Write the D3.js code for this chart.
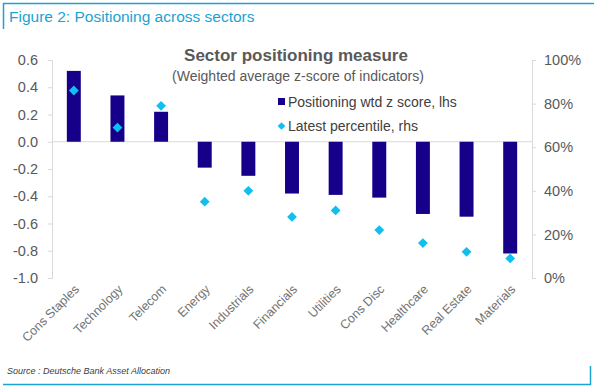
<!DOCTYPE html>
<html>
<head>
<meta charset="utf-8">
<title>Figure 2: Positioning across sectors</title>
<script src="https://cdnjs.cloudflare.com/ajax/libs/d3/7.8.5/d3.min.js"></script>
<style>
	body { margin: 0; background: #fff; }
	svg { font-family: "Liberation Sans", Arial, sans-serif; display: block; }
</style>
</head>
<body>
<svg id="chart" width="594" height="388"></svg>
<script>

	var sectors = ["Cons Staples", "Technology", "Telecom", "Energy", "Industrials", "Financials",
		"Utilities", "Cons Disc", "Healthcare", "Real Estate", "Materials"];
	var zScore = [0.52, 0.34, 0.22, -0.19, -0.25, -0.38, -0.39, -0.41, -0.53, -0.55, -0.82];
	var percentile = [86, 69, 79, 35, 40, 28, 31, 22, 16, 12, 9];
	var leftTicks = [0.6, 0.4, 0.2, 0.0, -0.2, -0.4, -0.6, -0.8, -1.0];
	var rightTicks = [0, 20, 40, 60, 80, 100];

	var blue = "#1ba3d2";
	var barColor = "#170089";
	var dotColor = "#0fbff0";

	function draw() {
		var svg = d3.select("#chart");

		// frame
		svg.append("line").attr("x1", 3).attr("x2", 594).attr("y1", 3.5).attr("y2", 3.5)
			.attr("stroke", blue).attr("stroke-width", 1.5);
		svg.append("line").attr("x1", 3.5).attr("x2", 3.5).attr("y1", 3).attr("y2", 29)
			.attr("stroke", blue).attr("stroke-width", 1.5);
		svg.append("line").attr("x1", 3).attr("x2", 591).attr("y1", 384.5).attr("y2", 384.5)
			.attr("stroke", blue).attr("stroke-width", 1.5);
		svg.append("line").attr("x1", 590.5).attr("x2", 590.5).attr("y1", 366).attr("y2", 385)
			.attr("stroke", blue).attr("stroke-width", 1.5);

		svg.append("text").attr("x", 9).attr("y", 22)
			.attr("fill", blue).attr("font-size", 15.5)
			.text("Figure 2: Positioning across sectors");

		svg.append("text").attr("x", 7).attr("y", 374)
			.attr("fill", "#404040").attr("font-size", 9).attr("font-style", "italic")
			.text("Source : Deutsche Bank Asset Allocation");

		// plot area
		var pLeft = 52, pRight = 532, pTop = 60, pBottom = 278;

		var x = d3.scaleBand().domain(sectors).range([pLeft, pRight]).paddingInner(0.68).paddingOuter(0.34);
		var y = d3.scaleLinear().domain([-1, 0.6]).range([pBottom, pTop]);
		var y2 = d3.scaleLinear().domain([0, 100]).range([pBottom, pTop]);

		var leftAxis = svg.append("g").attr("transform", "translate(" + pLeft + ",0)")
			.call(d3.axisLeft(y).tickValues(leftTicks).tickFormat(function(d) { return d.toFixed(1); })
				.tickSize(4).tickPadding(10));
		var rightAxis = svg.append("g").attr("transform", "translate(" + pRight + ",0)")
			.call(d3.axisRight(y2).tickValues(rightTicks).tickFormat(function(d) { return d + "%"; })
				.tickSize(4).tickPadding(8));

		[leftAxis, rightAxis].forEach(function(a) {
			a.select(".domain").attr("stroke", "#d9d9d9");
			a.selectAll(".tick line").attr("stroke", "#d9d9d9");
			a.selectAll(".tick text").attr("fill", "#595959").attr("font-size", 14.5)
				.attr("font-family", "Liberation Sans, Arial, sans-serif");
		});

		// zero line
		svg.append("line").attr("x1", pLeft).attr("x2", pRight).attr("y1", y(0)).attr("y2", y(0))
			.attr("stroke", "#d9d9d9");

		// bars
		svg.append("g").selectAll("rect").data(sectors).join("rect")
			.attr("x", function(d) { return x(d); })
			.attr("width", x.bandwidth())
			.attr("y", function(d, i) { return y(Math.max(0, zScore[i])); })
			.attr("height", function(d, i) { return Math.abs(y(zScore[i]) - y(0)); })
			.attr("fill", barColor);

		// diamonds
		svg.append("g").selectAll("path").data(sectors).join("path")
			.attr("d", d3.symbol().type(d3.symbolSquare).size(48))
			.attr("transform", function(d, i) {
				return "translate(" + (x(d) + x.bandwidth() / 2) + "," + y2(percentile[i]) + ") rotate(45)";
			})
			.attr("fill", dotColor);

		// category labels
		svg.append("g").selectAll("text").data(sectors).join("text")
			.attr("transform", function(d) {
				return "translate(" + (x(d) + x.bandwidth() / 2 + 6) + ",290) rotate(-45)";
			})
			.attr("text-anchor", "end")
			.attr("fill", "#737373")
			.attr("font-size", 12.5)
			.text(function(d) { return d; });

		// chart titles
		svg.append("text").attr("x", 296).attr("y", 61).attr("text-anchor", "middle")
			.attr("font-weight", "bold").attr("font-size", 17).attr("fill", "#595959")
			.text("Sector positioning measure");
		svg.append("text").attr("x", 298).attr("y", 81).attr("text-anchor", "middle")
			.attr("font-size", 14).attr("fill", "#595959")
			.text("(Weighted average z-score of indicators)");

		// legend
		var legend = svg.append("g").attr("transform", "translate(278,0)");
		legend.append("rect").attr("x", 0).attr("y", 98).attr("width", 7).attr("height", 7).attr("fill", barColor);
		legend.append("text").attr("x", 10).attr("y", 107).attr("font-size", 14).attr("fill", "#404040")
			.text("Positioning wtd z score, lhs");
		legend.append("path").attr("d", d3.symbol().type(d3.symbolSquare).size(30))
			.attr("transform", "translate(3.5,126) rotate(45)").attr("fill", dotColor);
		legend.append("text").attr("x", 10).attr("y", 131).attr("font-size", 14).attr("fill", "#404040")
			.text("Latest percentile, rhs");
	}

	draw();

</script>
</body>
</html>
